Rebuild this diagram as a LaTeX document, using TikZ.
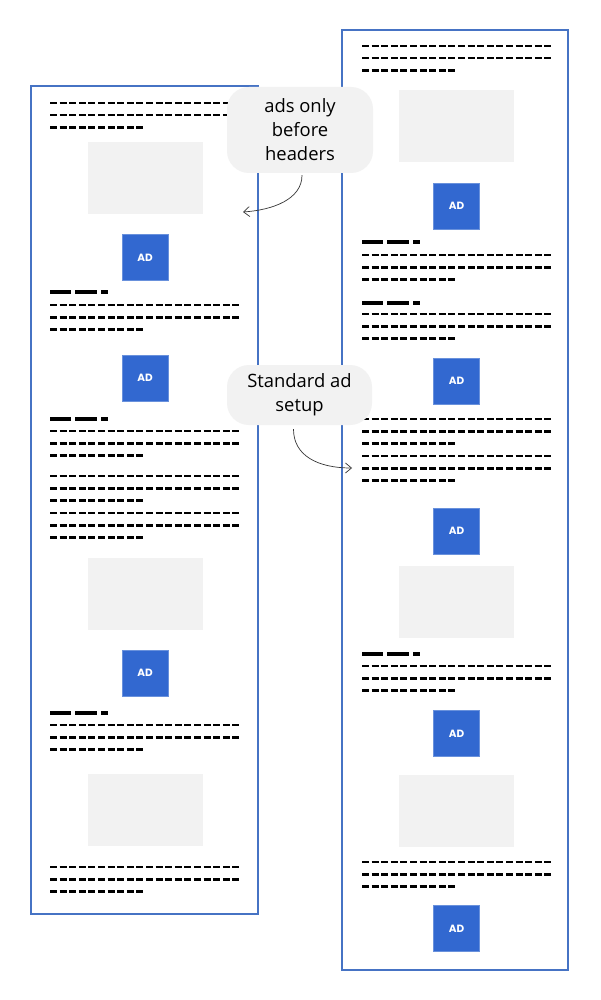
\documentclass[tikz,border=0pt]{standalone}
\usepackage{fontspec}
\setmainfont{Open Sans}
\newfontfamily\adfont{Poppins}
\usetikzlibrary{arrows.meta}
\definecolor{pageblue}{RGB}{70,115,196}
\definecolor{adblue}{RGB}{50,104,208}
\definecolor{adedge}{RGB}{105,145,220}
\definecolor{shade}{RGB}{242,242,242}
\definecolor{hintgray}{RGB}{55,55,55}

\begin{document}
\begin{tikzpicture}[x=1pt, y=-1pt,
page/.style={draw=pageblue, line width=2.4pt, fill=white, inner sep=0pt},
ad/.style={draw=adedge, line width=0.8pt, fill=adblue, minimum width=46pt, minimum height=46pt, inner sep=0pt, text=white, font=\adfont\bfseries\fontsize{10.5}{10.5}\selectfont},
img/.style={fill=shade, minimum width=115pt, minimum height=72pt, inner sep=0pt},
note/.style={fill=shade, rounded corners=22pt, inner sep=0pt, align=center, font=\fontsize{18.4}{24}\selectfont},
txt/.style={line width=2.4pt, dash pattern=on 7pt off 2.6pt},
head/.style={line width=4.5pt, dash pattern=on 21pt off 4pt on 22pt off 4pt on 7pt off 100pt},
hint/.style={draw=hintgray, line width=0.7pt, -{Straight Barb[length=6pt,width=10pt]}}]
\fill[white] (0,0) rectangle (600,1000);
\path (144.5,500) node[page, minimum width=227pt, minimum height=828pt] (lpage) {};
\path (455,500) node[page, minimum width=226pt, minimum height=940pt] (rpage) {};
\foreach \y in {103,305,431,476,513,725,867}
{
\draw[txt] (50,\y) -- +(191,0) (50,\y+12.3) -- +(191,0) (50,\y+24.6) -- +(96,0);
}
\foreach \y in {46,255,314,419,456,666,862}
{
\draw[txt] (362,\y) -- +(191,0) (362,\y+12.3) -- +(191,0) (362,\y+24.6) -- +(96,0);
}
\foreach \y in {292,419,713}
{
\draw[head] (50,\y) -- +(58,0);
}
\foreach \y in {242,303,654}
{
\draw[head] (362,\y) -- +(58,0);
}
\foreach \y [count=\i] in {178,593.5,810}
{
\path (145,\y) node[img] (limg\i) {};
}
\foreach \y [count=\i] in {126,601.5,811}
{
\path (456.5,\y) node[img] (rimg\i) {};
}
\foreach \y [count=\i] in {257.5,378,673}
{
\path (145,\y) node[ad] (lad\i) {AD};
}
\foreach \y [count=\i] in {206,381,531,733.5,928.5}
{
\path (456.5,\y) node[ad] (rad\i) {AD};
}
\path (300,130) node[note, minimum width=146pt, minimum height=86pt] (onlynote) {ads only\\before\\headers};
\path (299.5,395) node[note, minimum width=145pt, minimum height=60pt] (stdnote) {Standard ad\\setup};
\coordinate (onlyend) at (243,212);
\coordinate (stdend) at (352,468);
\draw[hint] ([xshift=2pt,yshift=-2pt]onlynote.south) .. controls +(0,24) and +(30,-2) .. (onlyend);
\draw[hint] ([xshift=-6pt,yshift=-4pt]stdnote.south) .. controls +(0,26) and +(-35,0) .. (stdend);
\end{tikzpicture}
\end{document}
